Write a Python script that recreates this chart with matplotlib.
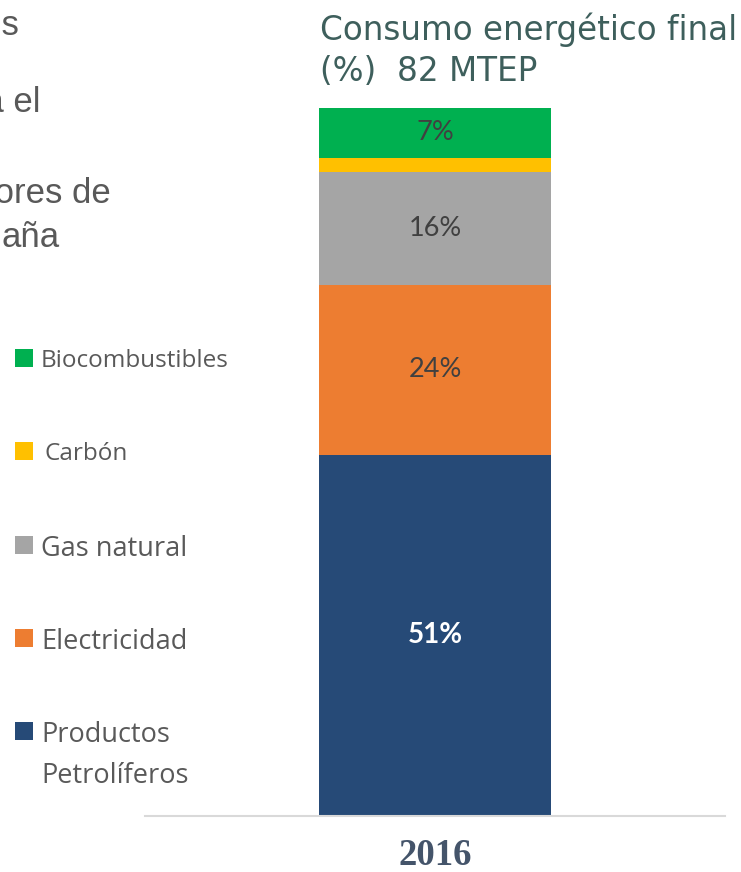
import matplotlib
matplotlib.use("Agg")
import matplotlib.pyplot as plt
from matplotlib.patches import Rectangle

# ---- data ----
categories = ["Productos\nPetrolíferos", "Electricidad", "Gas natural", "Carbón", "Biocombustibles"]
values = [51, 24, 16, 2, 7]
colors = ["#264A77", "#ED7D31", "#A5A5A5", "#FFC000", "#00B050"]
year_label = ["2016"]
title_lines = ["Consumo energético final", "(%)  82 MTEP"]
shown_labels = ["51%", "24%", "16%", "", "7%"]

W, H = 741, 872
fig = plt.figure(figsize=(W / 100, H / 100), dpi=100)

def fx(px):
    return px / W

def fy(py):
    return 1 - py / H

ax = fig.add_axes([fx(145), fy(816), fx(725) - fx(145), fy(108) - fy(816)])
ax.set_xlim(-1.25, 1.25)
ax.set_ylim(0, 100)

bottom = 0
for cat, v, c, lab in zip(categories, values, colors, shown_labels):
    ax.bar(0, v, width=1.0, bottom=bottom, color=c, edgecolor="none")
    if lab:
        if cat.startswith("Productos"):
            ax.text(0, bottom + v / 2, lab, ha="center", va="center", color="white",
                    fontsize=20, fontweight="bold", family="Lato")
        else:
            ax.text(0, bottom + v / 2, lab, ha="center", va="center", color="#404040",
                    fontsize=19.5, family="Lato")
    bottom += v

for s in ["top", "right", "left"]:
    ax.spines[s].set_visible(False)
ax.spines["bottom"].set_color("#D9D9D9")
ax.spines["bottom"].set_linewidth(1.5)
ax.set_yticks([])
ax.set_xticks([0])
ax.set_xticklabels(year_label, fontsize=26.5, fontweight="bold", family="Liberation Serif",
                   color="#44546A")
ax.tick_params(axis="x", length=0, pad=16)

# title (two lines)
for ln, yb in zip(title_lines, [40, 81]):
    fig.text(fx(320), fy(yb), ln, ha="left", va="baseline", fontsize=23.5,
             family="DejaVu Sans", color="#3E5F5C")

# legend (manual)
leg_y = [358, 451, 545, 638, 731]
order = [4, 3, 2, 1, 0]
for yy, i in zip(leg_y, order):
    fig.patches.append(Rectangle((fx(15), fy(yy + 9)), fx(33) - fx(15), fy(yy - 9) - fy(yy + 9),
                                 transform=fig.transFigure, facecolor=colors[i],
                                 edgecolor="none"))
    name = categories[i]
    xoff = 45 if name == "Carbón" else 41
    fs = 17.5 if name in ("Carbón", "Biocombustibles") else 19.5
    for k, ln in enumerate(name.split("\n")):
        fig.text(fx(xoff), fy(yy + 41 * k), ln, ha="left", va="center_baseline",
                 fontsize=fs, family="Open Sans", color="#595959")

# cropped slide text on the left
crop_texts = [("Indicadores", 20, 35), ("para el", 40, 112), ("Sectores de", 111, 203), ("aña", 60, 247)]
for t, xr, yb in crop_texts:
    fig.text(fx(xr), fy(yb), t, ha="right", va="baseline", fontsize=25,
             family="Liberation Sans", color="#595959")

fig.savefig("out.png", dpi=100)
